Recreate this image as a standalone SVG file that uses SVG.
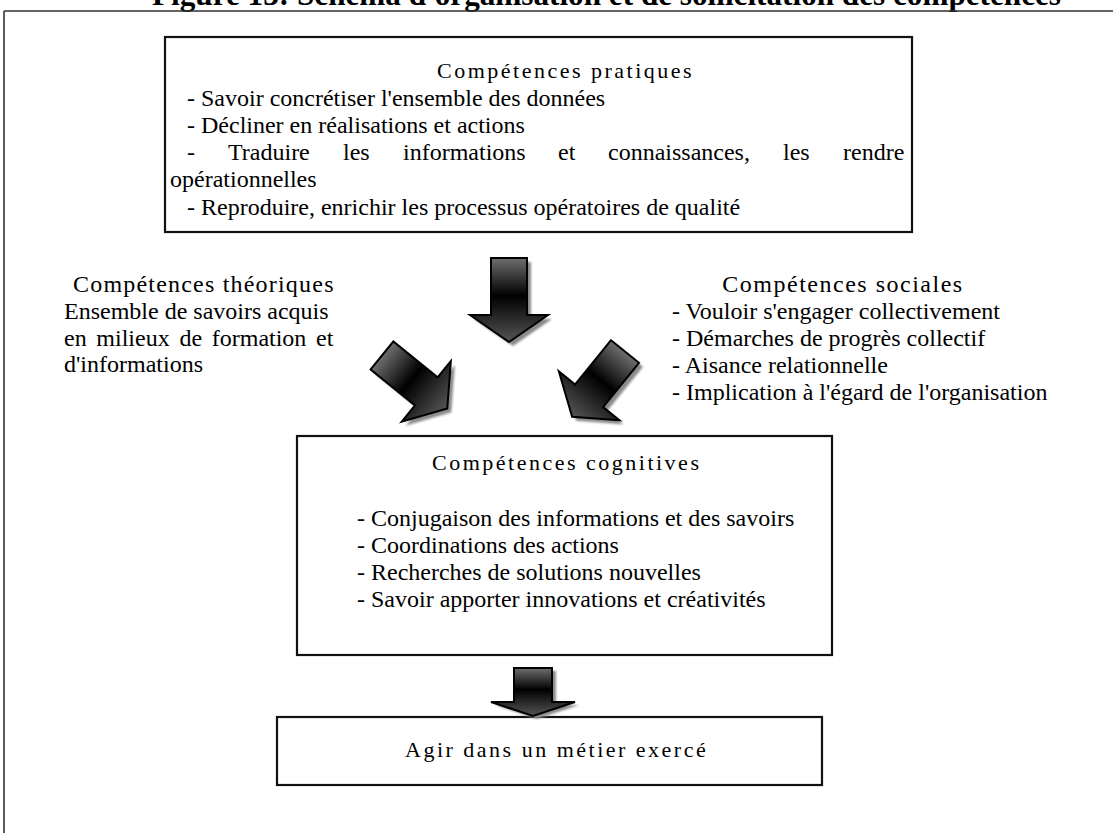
<svg xmlns="http://www.w3.org/2000/svg" xmlns:xlink="http://www.w3.org/1999/xlink" width="1113" height="833" viewBox="0 0 1113 833">
  <defs>
    <style>
      text { font-family: "Liberation Serif", "Times New Roman", serif; font-size: 24px; fill: #000; }
      .title { font-weight: bold; font-size: 31px; }
      .head { font-size: 22px; letter-spacing: 2.5px; }
      .box { fill: #fff; stroke: #111; stroke-width: 2.2; }
      .frame { fill: none; stroke: #333; stroke-width: 1.6; }
      .arrow { fill: url(#shade); stroke: #000; stroke-width: 2; stroke-linejoin: miter; }
      .shadow { fill: #8a8a8a; filter: url(#soft); }
    </style>
    <linearGradient id="shade" x1="0" y1="0" x2="0" y2="1">
      <stop offset="0" stop-color="#6e6e6e"/>
      <stop offset="0.45" stop-color="#000"/>
      <stop offset="1" stop-color="#555"/>
    </linearGradient>
    <filter id="soft" x="-20%" y="-20%" width="140%" height="140%">
      <feGaussianBlur stdDeviation="1.3"/>
    </filter>
    <!-- block arrow pointing down, origin at the middle of its tail -->
    <path id="arr" d="M-18,0 H18 V57 H39 L0,84 L-39,57 H-18 Z"/>
    <path id="arr-short" d="M-19,0 H19 V34 H42 L0,48 L-42,34 H-19 Z"/>
  </defs>

  <rect width="1113" height="833" fill="#fff"/>

  <!-- caption and page frame -->
  <g id="caption">
    <text class="title" x="152" y="5" textLength="909" lengthAdjust="spacingAndGlyphs">Figure 13: Schéma d'organisation et de sollicitation des compétences</text>
    <path class="frame" d="M4,11 H1113 M4,11 V833"/>
  </g>

  <g id="node-pratiques">
    <rect class="box" x="165" y="37" width="747" height="195"/>
    <text class="head" x="437" y="78">Compétences pratiques</text>
    <text x="187" y="106">- Savoir concrétiser l'ensemble des données</text>
    <text x="187" y="133">- Décliner en réalisations et actions</text>
    <text y="160"><tspan x="187">-</tspan><tspan x="228">Traduire</tspan><tspan x="343">les</tspan><tspan x="403">informations</tspan><tspan x="558">et</tspan><tspan x="608">connaissances,</tspan><tspan x="783">les</tspan><tspan x="843">rendre</tspan></text>
    <text x="170" y="187">opérationnelles</text>
    <text x="187" y="215">- Reproduire, enrichir les processus opératoires de qualité</text>
  </g>

  <g id="node-theoriques">
    <text x="73" y="292" letter-spacing="1.2">Compétences théoriques</text>
    <text x="64" y="319">Ensemble de savoirs acquis</text>
    <text x="64" y="346" word-spacing="3.7">en milieux de formation et</text>
    <text x="64" y="372">d'informations</text>
  </g>

  <g id="node-sociales">
    <text x="843" y="292" text-anchor="middle" letter-spacing="1.5">Compétences sociales</text>
    <text x="672" y="319">- Vouloir s'engager collectivement</text>
    <text x="672" y="346">- Démarches de progrès collectif</text>
    <text x="672" y="373">- Aisance relationnelle</text>
    <text x="672" y="400">- Implication à l'égard de l'organisation</text>
  </g>

  <g id="node-cognitives">
    <rect class="box" x="297" y="436" width="535" height="219"/>
    <text class="head" x="432" y="470">Compétences cognitives</text>
    <text x="357" y="526">- Conjugaison des informations et des savoirs</text>
    <text x="357" y="553">- Coordinations des actions</text>
    <text x="357" y="580">- Recherches de solutions nouvelles</text>
    <text x="357" y="607">- Savoir apporter innovations et créativités</text>
  </g>

  <g id="node-metier">
    <rect class="box" x="277" y="717" width="545" height="68"/>
    <text class="head" x="405" y="757" font-size="24" letter-spacing="2">Agir dans un métier exercé</text>
  </g>

  <!-- shaded block arrows with drop shadows -->
  <g id="connectors">
    <g id="arrow-pratiques-cognitives">
      <use xlink:href="#arr" class="shadow" transform="translate(513,262)"/>
      <use xlink:href="#arr" class="arrow" transform="translate(509,258)"/>
    </g>
    <g id="arrow-theoriques-cognitives">
      <use xlink:href="#arr" class="shadow" transform="translate(386,359.5) rotate(-51)"/>
      <use xlink:href="#arr" class="arrow" transform="translate(382,355.5) rotate(-51)"/>
    </g>
    <g id="arrow-sociales-cognitives">
      <use xlink:href="#arr" class="shadow" transform="translate(629,355.5) rotate(39)"/>
      <use xlink:href="#arr" class="arrow" transform="translate(625,351.5) rotate(39)"/>
    </g>
    <g id="arrow-cognitives-metier">
      <use xlink:href="#arr-short" class="shadow" transform="translate(537,671)"/>
      <use xlink:href="#arr-short" class="arrow" transform="translate(533,668)"/>
    </g>
  </g>
</svg>
